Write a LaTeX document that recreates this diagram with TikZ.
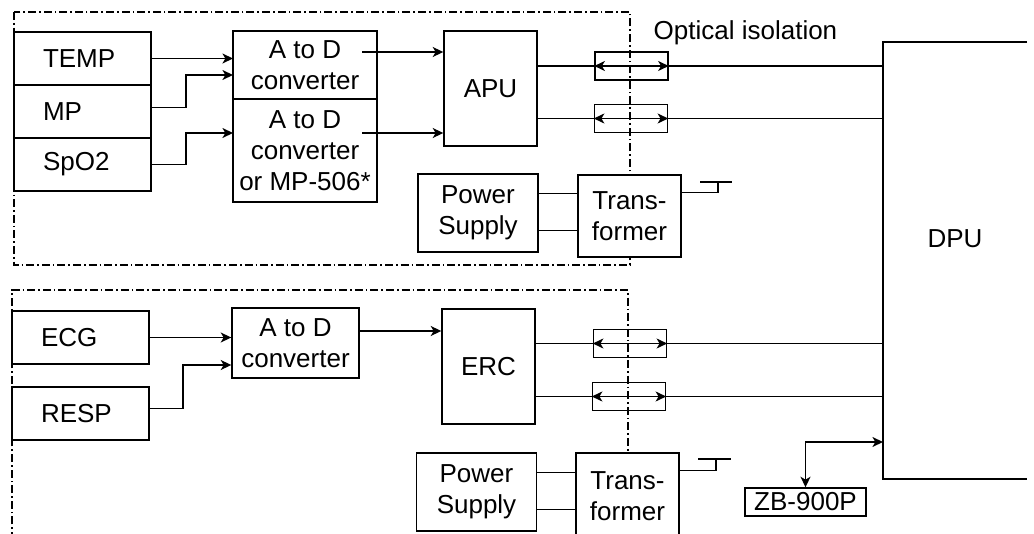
\documentclass[tikz,border=0pt]{standalone}
\usepackage{fontspec}
\setmainfont{Liberation Sans}
\usetikzlibrary{arrows.meta, positioning, calc}

\begin{document}
\begin{tikzpicture}[x=0.5pt, y=-0.5pt, line width=0.7pt,
  font=\fontsize{13}{15.5}\selectfont,
  box/.style={draw, fill=white, align=center, inner sep=1pt},
  sensor/.style={draw, fill=white, outer sep=0pt, minimum height=26.5pt,
    text width=39.5pt, inner xsep=14.5pt, align=left},
  opto/.style={draw, minimum width=36.5pt, minimum height=14pt},
  frame/.style={line width=0.6pt, dash pattern=on 4pt off 1.5pt on 0.8pt off 1.5pt},
  sig/.style={-{Stealth[length=5.3pt,width=5pt,inset=1.5pt]}},
  twoway/.style={{Stealth[length=5.3pt,width=5pt,inset=1.5pt]}-{Stealth[length=5.3pt,width=5pt,inset=1.5pt]}}]
  \useasboundingbox (0,0) rectangle (1034,534);
  \clip (0,0) rectangle (1034,534);
  % isolated units
  \draw[frame] (14,12) rectangle (630,265);
  \draw[frame] (12,540) -- (12,290) -- (628,290) -- (628,540);
  % upper unit
  \node[sensor] (temp) at (82.5,58.5) {TEMP};
  \node[sensor, below=0pt of temp] (mp) {MP};
  \node[sensor, below=0pt of mp] (spo2) {SpO2};
  \node[box, outer sep=0pt, minimum width=72pt, minimum height=34pt] (adc1) at (305,65) {A to D\\converter};
  \node[box, outer sep=0pt, minimum width=72pt, minimum height=51.5pt, below=0pt of adc1] (adc2) {A to D\\converter\\or MP-506*};
  \node[box, minimum width=46.5pt, minimum height=57.5pt] (apu) at (490.5,88.5) {APU};
  \node[opto] (opto1) at (631.5,66) {};
  \node[opto] (opto2) at (631,118.5) {};
  \node[box, minimum width=60pt, minimum height=39pt] (ps1) at (478,213) {Power\\Supply};
  \node[box, minimum width=51.5pt, minimum height=41pt] (tr1) at (629.5,216) {Trans-\\former};
  \node[anchor=base west, inner sep=0pt] (optlabel) at (653,40) {Optical isolation};
  % lower unit
  \node[sensor] (ecg) at (80.5,337.5) {ECG};
  \node[sensor, below=11.5pt of ecg] (resp) {RESP};
  \node[box, minimum width=63.5pt, minimum height=35pt] (adc3) at (295.5,343) {A to D\\converter};
  \node[box, minimum width=46.5pt, minimum height=57.5pt] (erc) at (488.5,366.5) {ERC};
  \node[opto] (opto3) at (630,343.5) {};
  \node[opto] (opto4) at (629,396.5) {};
  \node[box, minimum width=60pt, minimum height=39pt] (ps2) at (476.5,492) {Power\\Supply};
  \node[box, minimum width=51.5pt, minimum height=43pt] (tr2) at (627.5,496) {Trans-\\former};
  % DPU and printer
  \node[outer sep=0pt, minimum width=72pt, minimum height=218.5pt] (dpu) at (955,260.5) {};
  \node (dpulabel) at (955,239) {DPU};
  \draw (dpu.north east) -- (dpu.north west) -- (dpu.south west) -- (dpu.south east);
  \node[box, minimum width=60.5pt, minimum height=14pt] (zb) at (805.5,502) {ZB-900P};
  % upper signals
  \draw[sig] (temp.east) -- (temp.east -| adc1.west);
  \draw[sig] ([yshift=2pt]mp.east) -- ++(35,0) |- ([yshift=-5pt]adc1.west);
  \draw[sig] (spo2.east) -- ++(35,0) |- ([yshift=8.75pt]adc2.west);
  \coordinate (adc1out) at ([xshift=-7.5pt,yshift=6.5pt]adc1.east);
  \coordinate (adc2out) at ([xshift=-7.5pt,yshift=8.75pt]adc2.east);
  \draw[sig] (adc1out) -- (adc1out -| apu.west);
  \draw[sig] (adc2out) -- (adc2out -| apu.west);
  \draw (apu.east |- opto1) -- (opto1 -| dpu.west);
  \draw (apu.east |- opto2) -- (opto2 -| dpu.west);
  \draw[twoway] (opto1.west) -- (opto1.east);
  \draw[twoway] (opto2.west) -- (opto2.east);
  \draw (ps1.18) -- (ps1.18 -| tr1.west);
  \draw (ps1.344) -- (ps1.344 -| tr1.west);
  \coordinate (gnd1) at (718,182);
  \draw (tr1.24) -| (gnd1);
  \draw ([xshift=-9pt]gnd1) -- ([xshift=7pt]gnd1);
  % lower signals
  \draw[sig] (ecg.east) -- (ecg.east -| adc3.west);
  \draw[sig] ([yshift=2.5pt]resp.east) -- ++(34,0) |- ([yshift=-11pt]adc3.west);
  \coordinate (adc3out) at ([yshift=6pt]adc3.east);
  \draw[sig] (adc3out) -- (adc3out -| erc.west);
  \draw (erc.east |- opto3) -- (opto3 -| dpu.west);
  \draw (erc.east |- opto4) -- (opto4 -| dpu.west);
  \draw[twoway] (opto3.west) -- (opto3.east);
  \draw[twoway] (opto4.west) -- (opto4.east);
  \draw (ps2.18) -- (ps2.18 -| tr2.west);
  \draw (ps2.344) -- (ps2.344 -| tr2.west);
  \coordinate (gnd2) at (716,459);
  \draw (tr2.26) -| (gnd2);
  \draw ([xshift=-9pt]gnd2) -- ([xshift=7.5pt]gnd2);
  % printer link
  \coordinate (zbin) at (dpu.west |- 0,442);
  \draw[twoway] (zb.north) |- (zbin);
\end{tikzpicture}
\end{document}
